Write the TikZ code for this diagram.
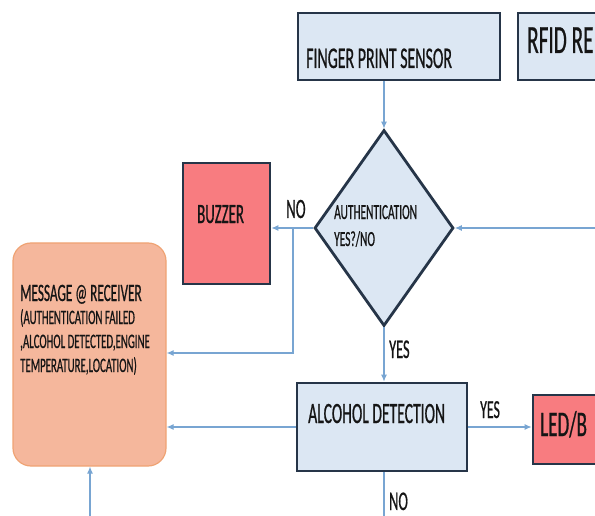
\documentclass[tikz,border=0pt]{standalone}
\usepackage{fontspec}
\setmainfont[FakeStretch=0.53,FakeBold=0.6]{Carlito}
\usetikzlibrary{shapes.geometric,arrows.meta}
\definecolor{boxblue}{HTML}{DCE7F3}
\definecolor{boxedge}{HTML}{263548}
\definecolor{redfill}{HTML}{F87C80}
\definecolor{peach}{HTML}{F5B79C}
\definecolor{peachedge}{HTML}{EFA374}
\definecolor{linkblue}{HTML}{78A5D2}
\definecolor{ink}{HTML}{151515}
\newcommand\fsz[1]{\fontsize{#1}{#1}\selectfont}
\tikzset{
  bluebox/.style={draw=boxedge,line width=2.8pt,fill=boxblue,inner sep=0pt},
  redbox/.style={draw=boxedge,line width=2.8pt,fill=redfill,inner sep=0pt},
  msgbox/.style={draw=peachedge,line width=1.2pt,fill=peach,rounded corners=18pt,inner sep=0pt},
  decision/.style={diamond,draw=boxedge,line width=2.8pt,fill=boxblue,inner sep=0pt},
  lbl/.style={anchor=base west,inner sep=0pt,text=ink},
  link/.style={draw=linkblue,line width=1.1pt},
  arrow/.style={link,-{Latex[length=7pt,width=6pt]}}
}
\begin{document}
\begin{tikzpicture}[x=1pt,y=-1pt]
\useasboundingbox (0,0) rectangle (595,516);
\clip (0,0) rectangle (595,516);
% boxes
\node[bluebox,minimum width=202pt,minimum height=67pt] (fps) at (399,46.5) {};
\node[bluebox,minimum width=90pt,minimum height=67pt] (rfid) at (563,46.5) {};
\node[decision,minimum width=139pt,minimum height=196pt] (dia) at (384,228) {};
\node[redbox,minimum width=87pt,minimum height=121pt] (buz) at (226.5,223.5) {};
\node[msgbox,minimum width=153pt,minimum height=223pt] (msg) at (89.5,354.5) {};
\node[bluebox,minimum width=170pt,minimum height=88pt] (alc) at (382,427) {};
\node[redbox,minimum width=80pt,minimum height=69pt] (led) at (573,429.5) {};
% texts
\node[lbl] (tfps) at (306,68) {\fsz{30}FINGER PRINT SENSOR};
\node[lbl] (trfid) at (527,53) {\fsz{40}RFID RE};
\node[lbl] (tbuz) at (197,223) {\fsz{28}BUZZER};
\node[lbl] (tno1) at (286,218) {\fsz{28}NO};
\node[lbl] (tauth1) at (334,219) {\fsz{21.5}AUTHENTICATION};
\node[lbl] (tauth2) at (334,246) {\fsz{21.5}YES?/NO};
\node[lbl] (tyes1) at (389,358) {\fsz{27}YES};
\node[lbl] (tmsg) at (20,301) {\fsz{25}MESSAGE @ RECEIVER};
\node[lbl] (tsub1) at (20,324) {\fsz{20.5}(AUTHENTICATION FAILED};
\node[lbl] (tsub2) at (20,348) {\fsz{20.5},ALCOHOL DETECTED,ENGINE};
\node[lbl] (tsub3) at (20,372) {\fsz{20.5}TEMPERATURE,LOCATION)};
\node[lbl] (talc) at (308,423) {\fsz{29.5}ALCOHOL DETECTION};
\node[lbl] (tyes2) at (480,418) {\fsz{26}YES};
\node[lbl] (tled) at (540,436) {\fsz{36}LED/B};
\node[lbl] (tno2) at (389,510) {\fsz{27}NO};
% connectors
\coordinate (rin) at (600,228);
\coordinate (byp) at (293,229);
\coordinate (byp2) at (293,353);
\coordinate (bin) at (90,520);
\coordinate (aout) at (384,520);
\draw[arrow] (dia.north |- fps.south) -- (dia.north);
\draw[arrow] (rin) -- (dia.east);
\draw[arrow] (dia.west) -- (dia.west -| buz.east);
\draw[arrow] (byp) -- (byp2) -- (byp2 -| msg.east);
\draw[arrow] (dia.south) -- (dia.south |- alc.north);
\draw[arrow] (alc.west) -- (alc.west -| msg.east);
\draw[arrow] (alc.east) -- (alc.east -| led.west);
\draw[link] (aout |- alc.south) -- (aout);
\draw[arrow] (bin) -- (bin |- msg.south);
\end{tikzpicture}
\end{document}
